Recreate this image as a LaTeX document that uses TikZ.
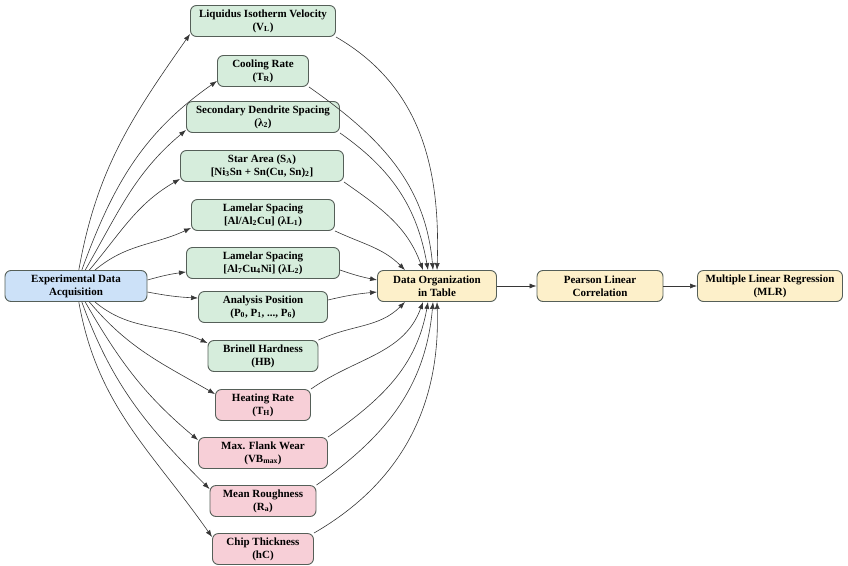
\documentclass[tikz,border=0pt]{standalone}
\usepackage{fontspec}
\setmainfont{Liberation Serif}
\usetikzlibrary{arrows.meta}
\definecolor{gfill}{RGB}{214,237,220}
\definecolor{bfill}{RGB}{204,225,248}
\definecolor{pfill}{RGB}{247,207,215}
\definecolor{yfill}{RGB}{253,240,202}
\definecolor{edgec}{RGB}{55,55,55}
\definecolor{bordc}{RGB}{85,95,88}
\begin{document}
\begin{tikzpicture}[x=1pt,y=1pt,
  box/.style={draw=bordc, line width=0.9pt, rounded corners=6pt, align=center,
    font=\fontsize{11}{13}\selectfont\bfseries, inner xsep=4pt, inner ysep=2pt, minimum height=31pt},
  gbox/.style={box, fill=gfill},
  bbox/.style={box, fill=bfill},
  pbox/.style={box, fill=pfill},
  ybox/.style={box, fill=yfill},
  arr/.style={-{Latex[length=7pt,width=5pt]}, draw=edgec, line width=0.6pt}]
\useasboundingbox (0,0) rectangle (848,-565);
\node[bbox, minimum width=142pt] (src) at (76,-286) {Experimental Data\\Acquisition};
\node[ybox, minimum width=119pt] (org) at (437,-286) {Data Organization\\in Table};
\node[ybox, minimum width=126pt] (pea) at (600,-286) {Pearson Linear\\Correlation};
\node[ybox, minimum width=145pt] (mlr) at (770,-286) {Multiple Linear Regression\\(MLR)};

\node[gbox, minimum width=145pt] (n1) at (263,-21) {Liquidus Isotherm Velocity\\(V\textsubscript{L})};
\node[gbox, minimum width=91pt] (n2) at (263,-71) {Cooling Rate\\(T\textsubscript{R})};
\node[gbox, minimum width=153pt] (n3) at (263,-117) {Secondary Dendrite Spacing\\(λ\textsubscript{2})};
\node[gbox, minimum width=163pt] (n4) at (262,-166) {Star Area (S\textsubscript{A})\\{[}Ni\textsubscript{3}Sn + Sn(Cu, Sn)\textsubscript{2}{]}};
\node[gbox, minimum width=143pt] (n5) at (263,-215) {Lamelar Spacing\\{[}Al/Al\textsubscript{2}Cu{]} (λL\textsubscript{1})};
\node[gbox, minimum width=153pt] (n6) at (263,-263) {Lamelar Spacing\\{[}Al\textsubscript{7}Cu\textsubscript{4}Ni{]} (λL\textsubscript{2})};
\node[gbox, minimum width=129pt] (n7) at (263,-307) {Analysis Position\\(P\textsubscript{0}, P\textsubscript{1}, ..., P\textsubscript{6})};
\node[gbox, minimum width=110pt] (n8) at (263,-356) {Brinell Hardness\\(HB)};
\node[pbox, minimum width=95pt] (n9) at (263,-405) {Heating Rate\\(T\textsubscript{H})};
\node[pbox, minimum width=129pt] (n10) at (263,-453) {Max. Flank Wear\\(VB\textsubscript{max})};
\node[pbox, minimum width=106pt] (n11) at (263,-501) {Mean Roughness\\(R\textsubscript{a})};
\node[pbox, minimum width=101pt] (n12) at (263,-549) {Chip Thickness\\(hC)};

% source to upper parameters
\foreach \n/\o/\i/\s in {n1/80/235/3,n2/70/215/6,n3/60/220/3,n4/50/210/3,n5/40/205/3}{
  \draw[arr] (src) to[out=\o,in=\i] ([yshift=\s pt]\n.south west);
}
\draw[arr] ([yshift=6pt]src.east) to[bend left=4] ([yshift=7pt]n6.south west);
\draw[arr] ([yshift=-6pt]src.east) to[bend right=4] ([yshift=-7pt]n7.north west);
% source to lower parameters
\foreach \n/\o/\i/\s in {n8/-40/155/3,n9/-50/150/5,n10/-60/140/3,n11/-70/135/4,n12/-80/125/4}{
  \draw[arr] (src) to[out=\o,in=\i] ([yshift=-\s pt]\n.north west);
}
% upper parameters to organization
\foreach \n/\o/\i/\d in {n1/-30/88/0,n2/-35/95/4,n3/-35/100/9,n4/-35/110/14}{
  \draw[arr] (\n.south east) to[out=\o,in=\i] ([xshift=-\d pt]org.north);
}
\draw[arr] (n5.south east) to[out=-25,in=135] ([xshift=-32pt]org.north);
\draw[arr] ([yshift=-7pt]n6.east) to[bend right=4] ([yshift=6pt]org.west);
\draw[arr] ([yshift=7pt]n7.east) to[bend left=4] ([yshift=-6pt]org.west);
\draw[arr] (n8.north east) to[out=25,in=225] ([xshift=-32pt]org.south);
\foreach \n/\o/\i/\d in {n9/35/250/14,n10/35/260/9,n11/35/265/4,n12/30/272/0}{
  \draw[arr] (\n.north east) to[out=\o,in=\i] ([xshift=-\d pt]org.south);
}
\draw[arr] (org) -- (pea);
\draw[arr] (pea) -- (mlr);
\end{tikzpicture}
\end{document}
